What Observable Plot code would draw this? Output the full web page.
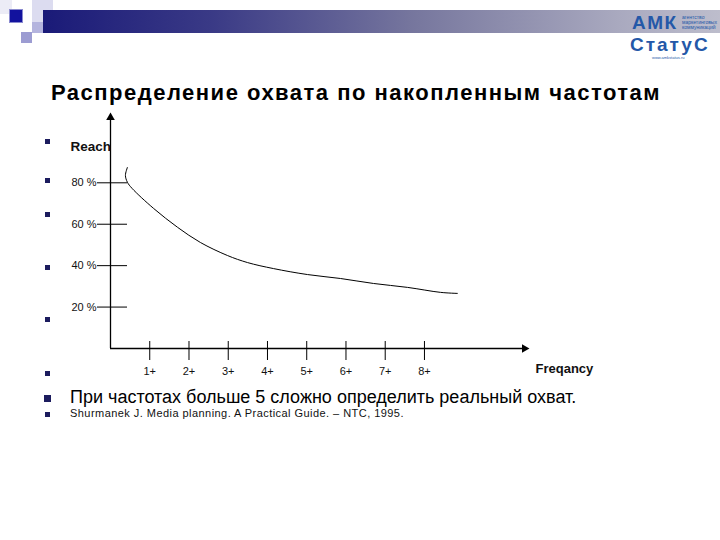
<!DOCTYPE html>
<html>
<head>
<meta charset="utf-8">
<script src="https://cdn.jsdelivr.net/npm/d3@7"></script>
<script src="https://cdn.jsdelivr.net/npm/@observablehq/plot@0.6"></script>
<style>
  html, body { margin: 0; padding: 0; background: #fff; }
  #slide { position: relative; width: 720px; height: 540px; overflow: hidden; background: #fff; font-family: "Liberation Sans", Arial, sans-serif; }
  .abs { position: absolute; white-space: nowrap; }
  .bul { position: absolute; width: 5px; height: 5px; background: #1c1c5e; }
  #chart { position: absolute; left: 0; top: 0; }
</style>
</head>
<body>
<div id="slide">
  <!-- header decoration -->
  <div class="abs" style="left:0;top:0;width:12px;height:14px;background:#ececf6"></div>
  <div class="abs" style="left:32px;top:0;width:21px;height:22px;background:#dcdcf0"></div>
  <div class="abs" style="left:43px;top:10px;width:677px;height:23px;background:linear-gradient(to right,#1a1a78 0%,#3a3a86 25%,#77779e 55%,#a9a9bf 85%,#bdbdcc 100%)"></div>
  <div class="abs" style="left:32px;top:22px;width:11px;height:11px;background:#b4b4de"></div>
  <div class="abs" style="left:10px;top:10px;width:12px;height:12px;background:#12129e;box-shadow:0 0 0 1px #8a8ad0"></div>
  <div class="abs" style="left:21px;top:32px;width:11px;height:11px;background:#9c9cd2"></div>
  <!-- logo -->
  <div class="abs" style="left:632px;top:12px;font-weight:bold;font-size:19px;letter-spacing:1.5px;color:#2458a8;">АМК</div>
  <div class="abs" style="left:682px;top:15px;font-size:5px;line-height:5px;color:#2458a8;">агентство<br>маркетинговых<br>коммуникаций</div>
  <div class="abs" style="left:630px;top:33.5px;font-weight:bold;font-size:19px;letter-spacing:2px;color:#2458a8;">СтатуС</div>
  <div class="abs" style="left:652px;top:56px;font-size:4px;line-height:4px;color:#2458a8;">www.amkstatus.ru</div>
  <!-- title -->
  <div class="abs" style="left:0;width:712px;top:80px;text-align:center;font-weight:bold;font-size:22px;letter-spacing:1.5px;color:#000;">Распределение охвата по накопленным частотам</div>
  <!-- bullets -->
  <div class="bul" style="left:45px;top:139px"></div>
  <div class="bul" style="left:45px;top:178px"></div>
  <div class="bul" style="left:45px;top:212px"></div>
  <div class="bul" style="left:45px;top:265px"></div>
  <div class="bul" style="left:45px;top:317px"></div>
  <div class="bul" style="left:45px;top:371px"></div>
  <div class="bul" style="left:44px;top:395px;width:7px;height:7px"></div>
  <div class="bul" style="left:45px;top:412px"></div>
  <div class="abs" style="left:70px;top:387px;font-size:18px;color:#000;">При частотах больше 5 сложно определить реальный охват.</div>
  <div class="abs" style="left:70px;top:407px;font-size:11px;letter-spacing:0.45px;color:#111;">Shurmanek J. Media planning. A Practical Guide. – NTC, 1995.</div>
  <div id="chart"></div>
</div>
<script>
// ---- data ----
const reachTicks = [20, 40, 60, 80];
const freqTicks = [1, 2, 3, 4, 5, 6, 7, 8];
const freqLabels = ["1+", "2+", "3+", "4+", "5+", "6+", "7+", "8+"];
const yLabel = "Reach";
const xLabel = "Freqancy";
// curve (frequency, reach %)
const curveFreq  = [0.43, 0.38, 0.43, 0.55, 1.10, 1.71, 2.29, 2.98, 3.49, 4.15, 5.02, 5.86, 6.70, 7.57, 8.41, 8.84];
const curveReach = [87.4, 83.6, 80.3, 77.3, 67.6, 58.5, 51.2, 44.9, 41.5, 38.6, 35.7, 33.8, 31.4, 29.5, 27.1, 26.6];
const xMax = 10.6, yMax = 112.5;

const curve = curveFreq.map((f, i) => ({freq: f, reach: curveReach[i]}));

const chart = Plot.plot({
  width: 720,
  height: 540,
  marginLeft: 110,
  marginRight: 194,
  marginTop: 115,
  marginBottom: 192,
  style: {background: "transparent", fontFamily: "Liberation Sans, Arial, sans-serif", color: "#111"},
  x: {domain: [0, xMax]},
  y: {domain: [0, yMax]},
  marks: [
    Plot.ruleX([0], {stroke: "#000", strokeWidth: 1.3}),
    Plot.ruleY([0], {stroke: "#000", strokeWidth: 1.3}),
    Plot.dot([{x: 0, y: yMax}], {x: "x", y: "y", symbol: "triangle", r: 3.2, fill: "#000", stroke: null, dy: 2}),
    Plot.dot([{x: xMax, y: 0}], {x: "x", y: "y", symbol: "triangle", r: 3.2, fill: "#000", stroke: null, rotate: 90, dx: -2}),
    Plot.ruleY(reachTicks, {stroke: "#000", strokeWidth: 1, insetLeft: -13, insetRight: 399}),
    Plot.ruleX(freqTicks, {stroke: "#000", strokeWidth: 1, insetTop: 226, insetBottom: -12}),
    Plot.axisY({ticks: reachTicks, tickSize: 0, tickPadding: 14, tickFormat: d => `${d} %`, fontSize: 11, label: null}),
    Plot.axisX({ticks: freqTicks, tickSize: 0, tickPadding: 19, tickFormat: d => freqLabels[freqTicks.indexOf(d)], fontSize: 11, label: null}),
    Plot.text([yLabel], {frameAnchor: "top-left", dx: -40, dy: 26, textAnchor: "start", fontWeight: "bold", fontSize: 13.5}),
    Plot.text([xLabel], {frameAnchor: "bottom-right", dx: 9, dy: 24, textAnchor: "start", fontWeight: "bold", fontSize: 13}),
    Plot.line(curve, {x: "freq", y: "reach", curve: "catmull-rom", stroke: "#000", strokeWidth: 1})
  ]
});
document.getElementById("chart").appendChild(chart);
</script>
</body>
</html>
